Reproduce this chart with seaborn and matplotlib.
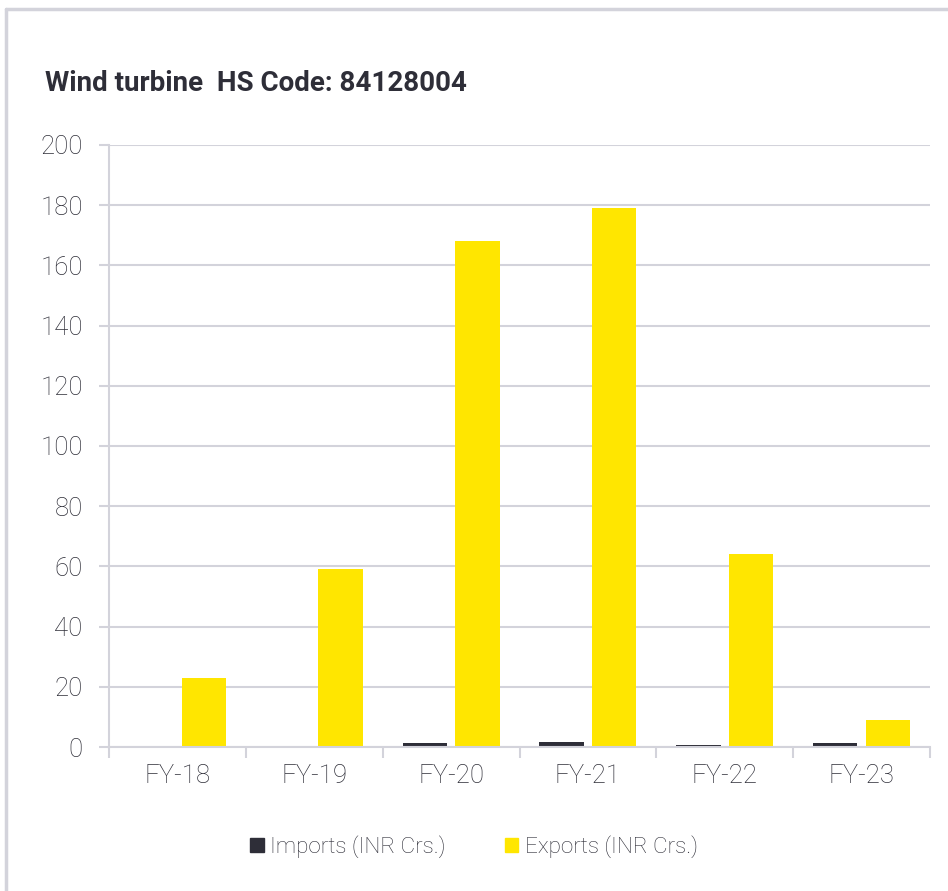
import pandas as pd
import matplotlib.pyplot as plt
import matplotlib.patches as mpatches
import seaborn as sns

sns.set_theme(style="white")
plt.rcParams['font.family'] = ['Roboto', 'DejaVu Sans']

# Values (INR Crs.)
years = ["FY-18", "FY-19", "FY-20", "FY-21", "FY-22", "FY-23"]
imports = [0.0, 0.0, 1.2, 1.7, 0.6, 1.2]
exports = [23, 59, 168, 179, 64, 9]
series = ["Imports (INR Crs.)", "Exports (INR Crs.)"]
colors = ["#2e2e38", "#ffe600"]

df = pd.DataFrame({"year": years * 2,
                   "value": imports + exports,
                   "series": [series[0]] * len(years) + [series[1]] * len(years)})

grid_col = "#d3d3db"
text_col = "#2e2e38"

fig = plt.figure(figsize=(9.48, 8.91), dpi=100)
ax = fig.add_axes([0.115, 0.1616, 0.866, 0.6757])

sns.barplot(data=df, x="year", y="value", hue="series", palette=colors,
            width=0.77, gap=0.16, ax=ax, legend=False, saturation=1,
            linewidth=0)

ax.set_ylim(0, 200)
ax.set_yticks(range(0, 201, 20))
ax.set_xlim(-0.5, len(years) - 0.5)
ax.yaxis.grid(True, color=grid_col, linewidth=1.5)
ax.set_axisbelow(True)
for s in ["top", "right"]:
    ax.spines[s].set_visible(False)
for s in ["left", "bottom"]:
    ax.spines[s].set_color(grid_col)
    ax.spines[s].set_linewidth(1.5)

# category boundary ticks on the x axis
ax.set_xticks([i - 0.5 for i in range(len(years) + 1)], minor=True)
ax.tick_params(axis="x", which="minor", length=8, width=1.5, color=grid_col, bottom=True)
ax.tick_params(axis="x", which="major", length=0, pad=12, labelsize=18.5, labelcolor=text_col)
ax.tick_params(axis="y", length=7, width=1.5, color=grid_col, left=True, pad=12,
               labelsize=18.5, labelcolor=text_col)
for lab in ax.get_xticklabels() + ax.get_yticklabels():
    lab.set_fontweight("light")
ax.set_xlabel("")
ax.set_ylabel("")

fig.text(0.047, 0.906, "Wind turbine  HS Code: 84128004", fontsize=20, fontweight="bold",
         color=text_col, va="center")

handles = [mpatches.Patch(color=c, label=l) for c, l in zip(colors, series)]
leg = fig.legend(handles=handles, loc="center", bbox_to_anchor=(0.5, 0.05), ncol=2,
                 frameon=False, fontsize=16.2, handlelength=0.6, handleheight=0.6,
                 handletextpad=0.3, columnspacing=2.6, labelcolor=text_col)
for t in leg.get_texts():
    t.set_fontweight("light")

# light frame around the panel (top and left edges visible)
fig.add_artist(plt.Line2D([0.006, 1.0], [0.99, 0.99], color=grid_col, lw=2.5,
                          transform=fig.transFigure))
fig.add_artist(plt.Line2D([0.006, 0.006], [0.0, 0.99], color=grid_col, lw=2.5,
                          transform=fig.transFigure))

fig.savefig("out.png", dpi=100, facecolor="white")
